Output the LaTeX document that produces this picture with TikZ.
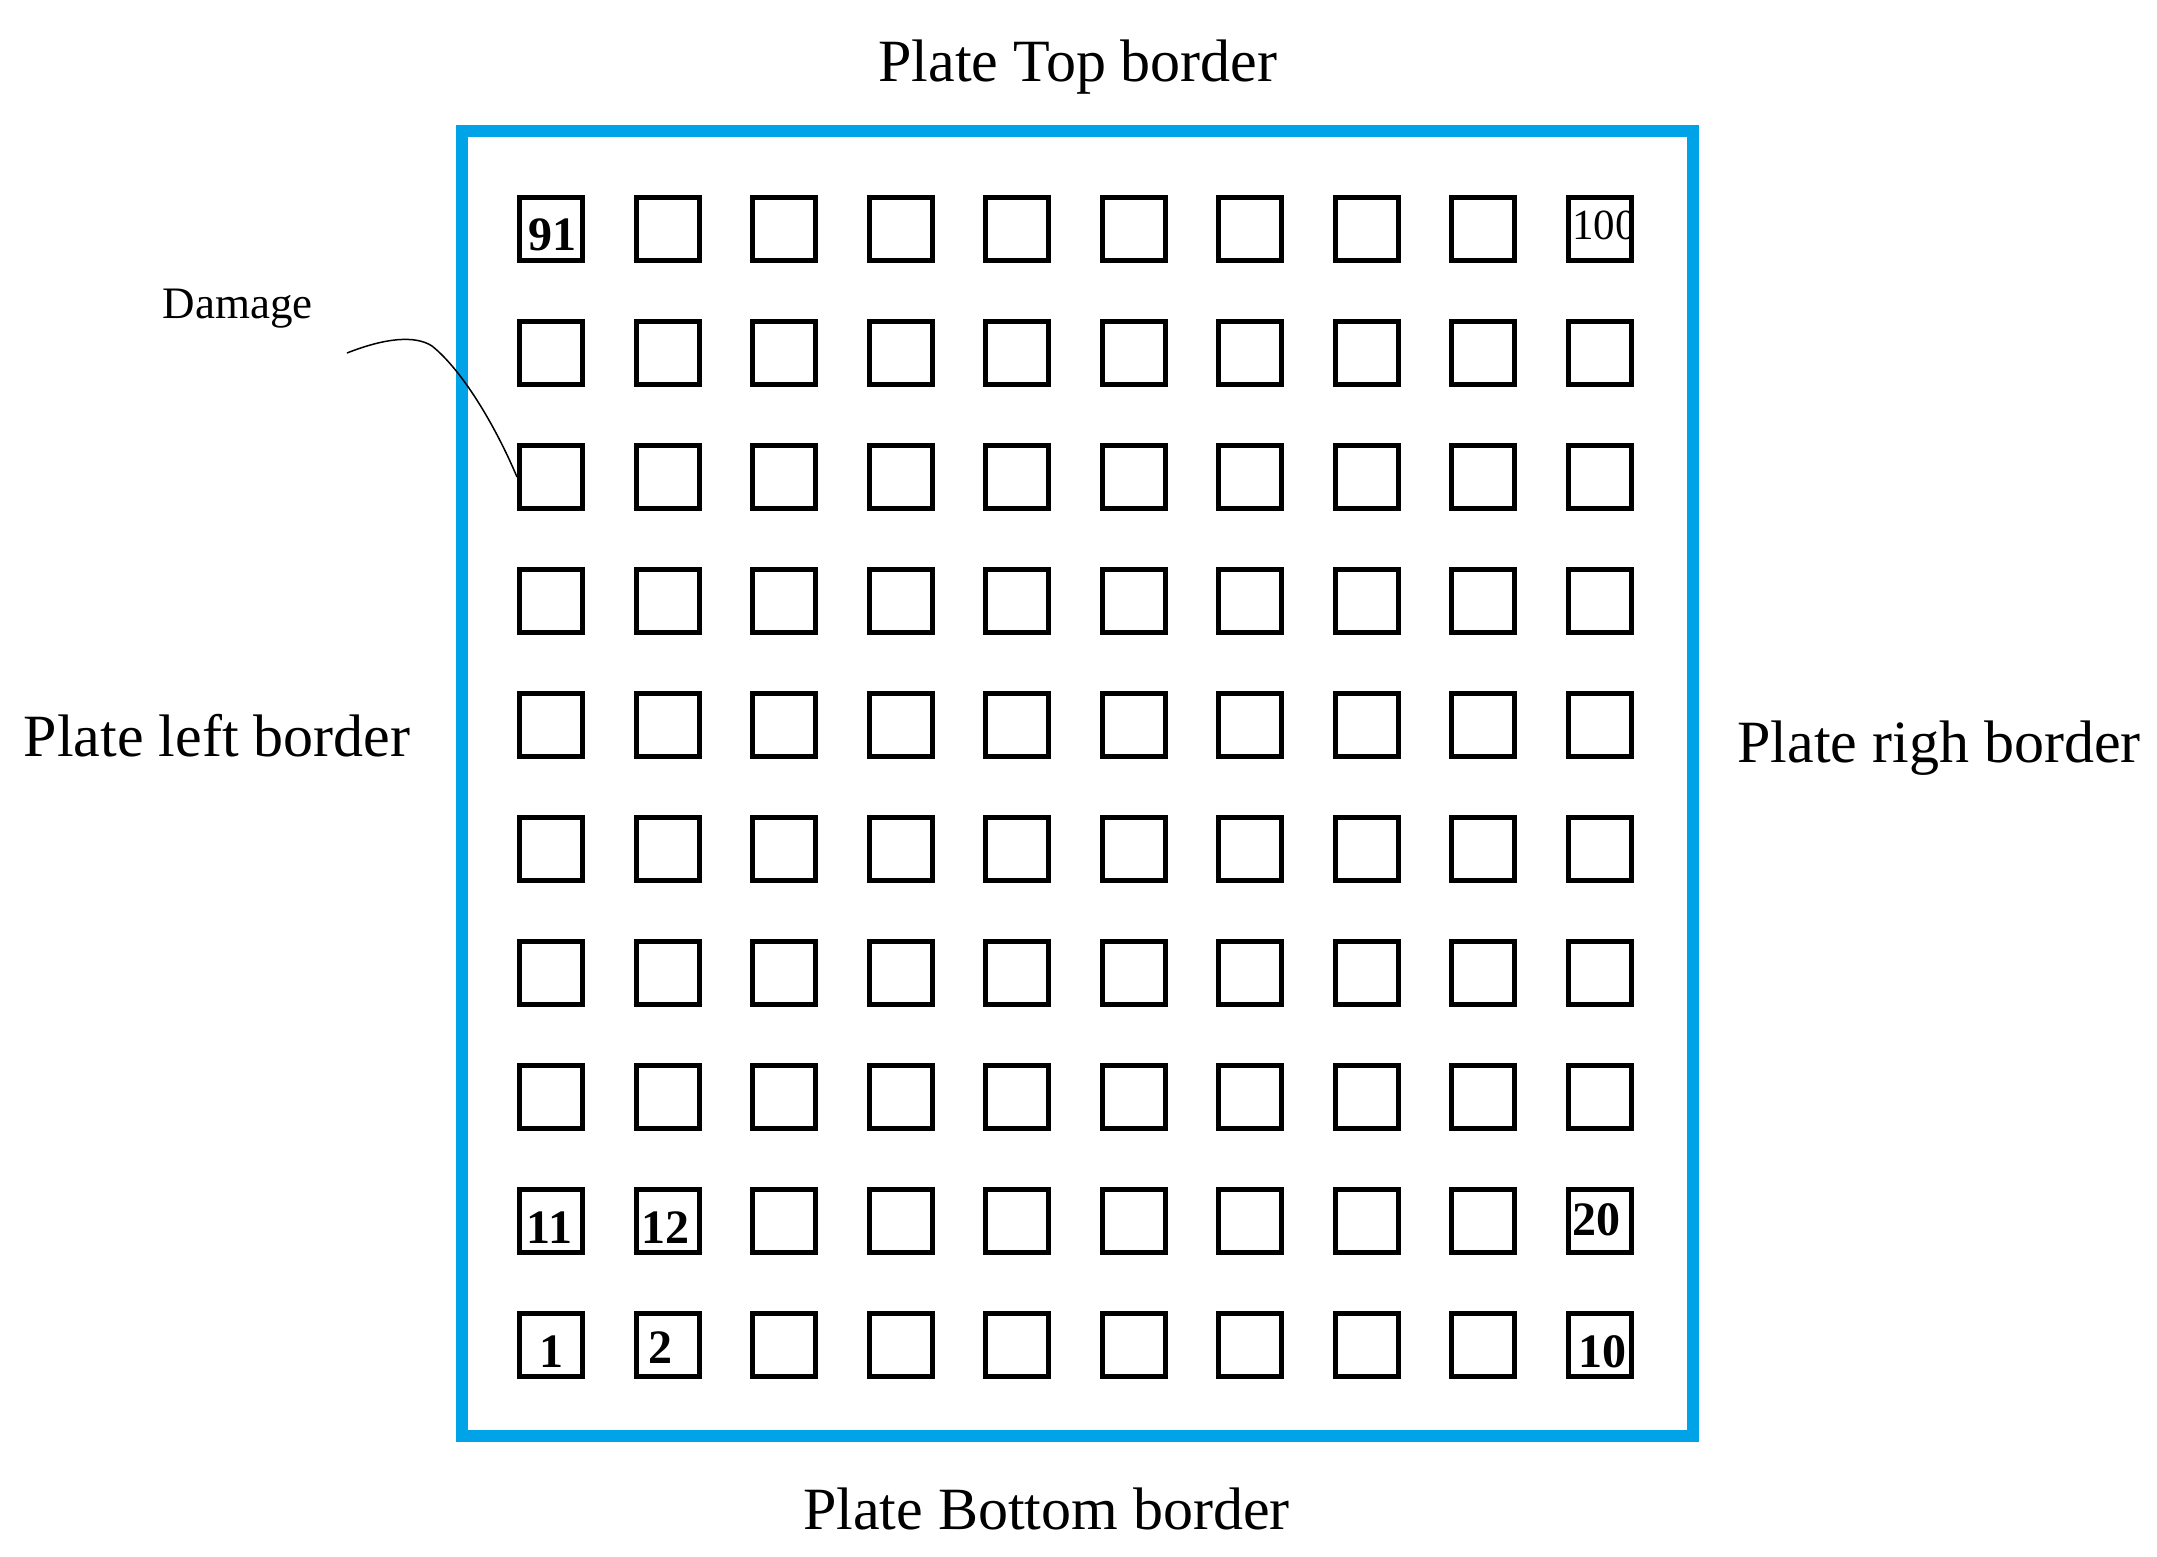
\documentclass[tikz,border=0pt]{standalone}
\usepackage{fontspec}
\setmainfont{Liberation Serif}
\definecolor{plateblue}{RGB}{0,163,232}
\tikzset{
  cell/.style={draw=black, line width=5pt, minimum size=63pt, inner sep=0pt, outer sep=2.5pt},
  bigtxt/.style={anchor=base, inner sep=0pt, font=\fontsize{60}{72}\selectfont},
  numtxt/.style={anchor=base, inner sep=0pt, font=\fontsize{48}{56}\selectfont\bfseries},
  smalltxt/.style={anchor=base, inner sep=0pt, font=\fontsize{45}{54}\selectfont},
}
\begin{document}
\begin{tikzpicture}[x=1pt, y=-1pt]
\useasboundingbox (0,0) rectangle (2157,1557);
% plate border
\draw[plateblue, line width=12pt] (462,131) rectangle (1693,1436);
% grid of cells
\foreach \j in {0,...,9}{
  \foreach \i in {0,...,9}{
    \pgfmathtruncatemacro{\n}{10*(9-\j)+\i+1}
    \node[cell] (s\n) at ({551+116.5*\i},{229+124*\j}) {};
  }
}
% cell numbers
\node[numtxt] (n91) at (552.5,250) {91};
\node[numtxt] (n1) at (551,1367) {1};
\node[numtxt] (n2) at (660.5,1363) {2};
\node[numtxt] (n11) at (549.5,1243) {11};
\node[numtxt] (n12) at (665,1243) {12};
\node[numtxt] (n20) at (1596.5,1235) {20};
\node[numtxt] (n10) at (1602,1367) {10};
\begin{scope}
  \clip (1570,198) rectangle (1629,260);
  \node[anchor=base west, inner sep=0pt, font=\fontsize{43}{50}\selectfont] (n100) at (1572,239) {100};
\end{scope}
% border labels
\node[bigtxt] (top) at (1078,82) {Plate Top border};
\node[bigtxt] (bottom) at (1046.5,1529) {Plate Bottom border};
\node[bigtxt] (left) at (217,756) {Plate left border};
\node[bigtxt] (right) at (1939,762) {Plate righ border};
% damage
\node[smalltxt] (damage) at (237.5,318) {Damage};
\coordinate (dmgstart) at (347,353);
\draw[line width=1.5pt] (dmgstart) .. controls (385,338) and (415,335) .. (432,346)
  .. controls (462,370) and (495,425) .. (s71.west);
\end{tikzpicture}
\end{document}
